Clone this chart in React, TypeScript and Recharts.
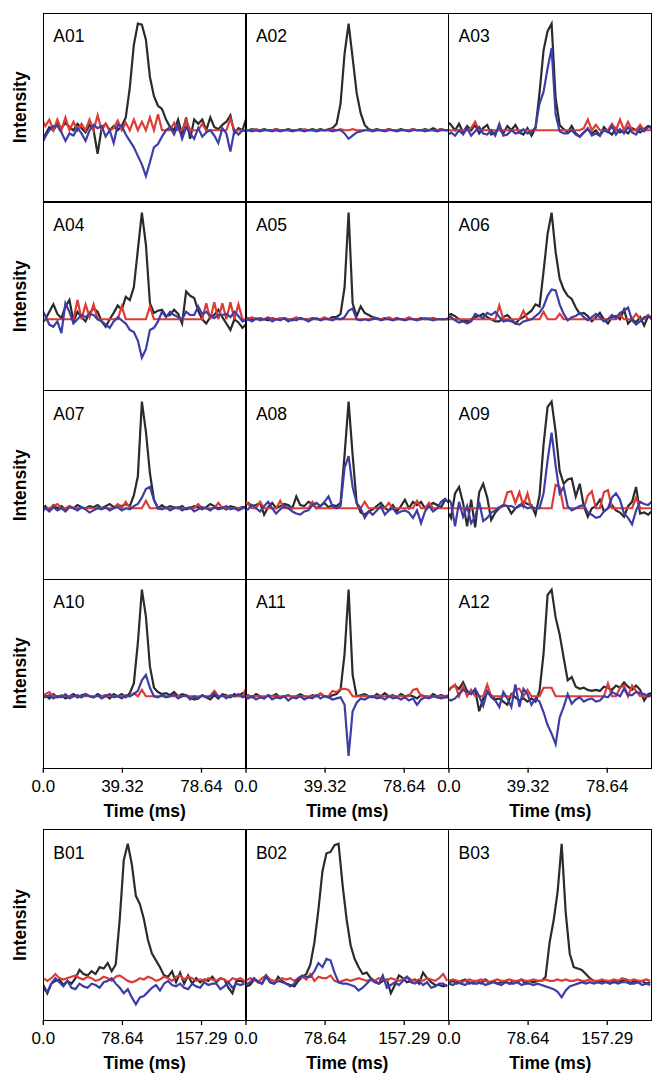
import React from 'react'
import { LineChart, Line, XAxis, YAxis } from 'recharts'

// time axes (ms)
const A_TIME = [
  0, 1, 3, 5, 7, 9, 11, 13, 15, 17, 19, 21, 23,
  25, 27, 29, 31, 33, 35, 37, 39, 41, 43, 45, 47, 49,
  51, 53, 55, 57, 59, 61, 63, 65, 67, 69, 71, 73, 75,
  77, 79, 81, 83, 85, 87, 89, 91, 93, 95, 97, 99, 100.7,
]
const B_TIME = [
  0, 4, 8, 12, 16, 20, 24, 28, 32, 36, 40, 44, 48,
  52, 56, 60, 64, 68, 72, 76, 80, 84, 88, 92, 96, 100,
  104, 108, 112, 116, 120, 124, 128, 132, 136, 140, 144, 148, 152,
  156, 160, 164, 168, 172, 176, 180, 184, 188, 192, 196, 200,
]

const A_TICKS = [0, 39.32, 78.64]
const A_TICK_LABELS = ['0.0', '39.32', '78.64']
const B_TICKS = [0, 78.64, 157.29]
const B_TICK_LABELS = ['0.0', '78.64', '157.29']

// ---- A01 ----
const A01_BLACK = [
  -0.06, -0.04, 0.03, 0.0, 0.06, 0.02, 0.07, 0.03, 0.0, 0.06, 0.02, -0.02, 0.05,
  0.0, -0.22, 0.02, 0.06, 0.0, 0.04, 0.0, 0.04, 0.12, 0.4, 0.8, 1.0, 0.99,
  0.85, 0.5, 0.32, 0.23, 0.2, 0.1, 0.03, 0.0, 0.1, -0.04, 0.12, -0.08, 0.1,
  0.06, 0.1, 0.0, 0.12, 0.03, 0.01, 0.05, 0.08, 0.14, -0.03, 0.02, 0.0, 0.1,
]
const A01_RED = [
  0.08, 0.04, 0.1, 0, 0.1, 0, 0.12, 0, 0.08, 0, 0.06, 0, 0.1,
  0, 0.14, 0, 0.06, 0, 0.02, 0.09, 0, 0.07, 0, 0.1, 0, 0.08,
  0, 0.12, 0, 0.15, 0, 0, 0, 0.07, 0, 0, 0.1, 0, 0,
  0, 0.06, 0, 0, 0, 0, 0, 0, 0.11, 0, 0, 0, 0,
]
const A01_BLUE = [
  -0.1, -0.06, 0.0, 0.04, 0.04, -0.02, -0.1, -0.03, -0.05, 0.02, -0.03, -0.1, 0.0,
  0.05, 0.02, 0.04, -0.06, 0.0, -0.12, 0.05, 0.04, -0.04, -0.1, -0.16, -0.24, -0.32,
  -0.43, -0.3, -0.16, -0.13, -0.06, 0.0, 0.03, -0.04, 0.05, -0.08, 0.03, -0.03, -0.08,
  0.02, -0.06, -0.02, 0.0, -0.05, -0.12, 0.02, -0.03, -0.2, 0.0, -0.04, 0.0, -0.01,
]

// ---- A02 ----
const A02_BLACK = [
  0.0, 0.0, 0.01, 0.0, 0.0, 0.01, 0.0, 0.0, 0.01, 0.0, 0.0, 0.01, 0.0,
  0.0, 0.01, 0.0, 0.0, 0.01, 0.0, 0.01, 0.0, 0.01, 0.02, 0.06, 0.25, 0.72,
  1.0, 0.68, 0.35, 0.16, 0.05, 0.01, 0.0, 0.01, 0.0, 0.0, 0.01, 0.0, 0.0,
  0.01, 0.0, 0.0, 0.01, 0.0, 0.0, 0.01, 0.0, 0.02, 0.0, 0.01, 0.0, 0.0,
]
const A02_RED = [
  0, 0, 0, 0.01, 0, 0, 0, 0, 0.01, 0, 0, 0, 0,
  0, 0, 0.01, 0, 0, 0, 0, 0, 0, 0.01, 0, 0.01, 0,
  0, 0.01, 0, 0, 0, 0, 0, 0, 0, 0, 0.01, 0, 0,
  0, 0, 0, 0.01, 0, 0, 0, 0, 0, 0, 0.01, 0, 0,
]
const A02_BLUE = [
  -0.01, 0.0, -0.01, 0.0, -0.01, 0.0, 0.0, -0.01, 0.0, -0.01, 0.0, 0.0, -0.01,
  0.0, 0.0, -0.01, 0.0, 0.0, -0.01, 0.0, 0.0, 0.0, -0.01, 0.0, 0.0, -0.03,
  -0.08, -0.05, -0.02, -0.01, 0.0, 0.0, -0.01, 0.0, 0.0, -0.01, 0.0, 0.0, -0.01,
  0.0, 0.0, -0.01, 0.0, 0.0, 0.0, -0.01, 0.0, 0.0, -0.01, 0.0, 0.0, 0.0,
]

// ---- A03 ----
const A03_BLACK = [
  0.07, 0.05, 0.0, 0.06, -0.02, 0.04, 0.0, 0.05, -0.03, 0.02, 0.05, -0.04, -0.02,
  0.01, -0.03, 0.04, 0.0, 0.05, -0.02, -0.04, 0.02, -0.05, 0.02, 0.35, 0.75, 0.93,
  1.0, 0.3, 0.05, 0.01, -0.02, 0.04, -0.03, -0.06, -0.02, 0.01, -0.03, 0.0, -0.05,
  0.03, -0.01, -0.04, 0.02, -0.02, 0.0, -0.03, 0.02, 0.0, -0.02, 0.01, 0.04, 0.03,
]
const A03_RED = [
  0, 0, 0, 0, 0, 0, 0.02, 0.08, 0, 0, 0, 0, 0,
  0, 0, 0, 0, 0, 0, 0, 0, 0, 0, 0, 0, 0,
  0, 0, 0, 0, 0, 0, 0, 0, 0.02, 0.1, 0, 0.05, 0,
  0, 0, 0.06, 0, 0.1, 0, 0.08, 0, 0, 0.05, 0, 0, 0,
]
const A03_BLUE = [
  -0.04, -0.02, -0.05, 0.0, -0.04, 0.02, -0.05, -0.01, 0.03, -0.03, -0.04, 0.0, -0.05,
  0.06, -0.05, -0.04, 0.0, -0.03, -0.02, 0.01, -0.03, -0.02, 0.03, 0.25, 0.36, 0.58,
  0.77, 0.15, -0.01, -0.03, -0.03, 0.0, -0.04, -0.06, -0.02, 0.02, -0.05, -0.03, -0.05,
  0.0, -0.02, 0.04, -0.04, 0.01, -0.03, 0.03, -0.02, -0.04, 0.02, -0.01, 0.03, 0.02,
]

// ---- A04 ----
const A04_BLACK = [
  -0.02, 0.0, 0.07, 0.14, 0.05, 0.01, 0.12, 0.18, -0.02, 0.07, 0.02, -0.02, 0.06,
  0.1, 0.07, -0.02, -0.07, 0.0, 0.06, 0.13, 0.09, 0.21, 0.18, 0.3, 0.65, 1.0,
  0.7, 0.15, 0.06, 0.08, 0.09, 0.03, 0.04, 0.09, 0.05, -0.04, 0.26, 0.22, 0.2,
  0.08, 0.0, -0.04, 0.02, 0.04, 0.09, 0.02, -0.04, -0.1, 0.0, -0.03, -0.08, -0.05,
]
const A04_RED = [
  0, 0, 0, 0, 0, 0, 0, 0, 0, 0.18, 0, 0.14, 0.02,
  0.14, 0, 0, 0, 0, 0, 0, 0.12, 0, 0, 0, 0, 0,
  0, 0.12, 0, 0, 0, 0, 0, 0, 0, 0, 0, 0, 0,
  0, 0, 0.15, 0, 0.16, 0, 0.15, 0, 0.16, 0, 0.14, 0, 0,
]
const A04_BLUE = [
  0.07, 0.03, -0.05, -0.07, -0.02, -0.13, 0.15, 0.07, -0.04, 0.0, 0.04, 0.02, 0.05,
  0.04, 0.0, -0.02, -0.05, -0.08, -0.02, 0.02, -0.01, -0.04, -0.1, -0.12, -0.2, -0.36,
  -0.28, -0.1, -0.08, -0.02, 0.07, 0.02, 0.07, 0.04, 0.02, 0.0, 0.07, 0.04, 0.04,
  0.12, 0.05, 0.07, 0.03, 0.01, 0.04, 0.04, 0.05, 0.02, 0.07, 0.03, -0.02, -0.01,
]

// ---- A05 ----
const A05_BLACK = [
  0.0, 0.01, 0.0, 0.0, 0.01, 0.0, -0.01, 0.01, 0.0, 0.0, 0.01, 0.0, -0.01,
  0.0, 0.01, 0.0, 0.0, 0.01, 0.0, 0.0, 0.01, 0.0, 0.02, 0.02, 0.05, 0.3,
  1.0, 0.15, 0.03, 0.12, 0.06, 0.04, 0.02, 0.01, 0.0, 0.01, 0.0, 0.0, 0.01,
  0.0, 0.0, 0.01, 0.0, 0.0, 0.01, 0.0, 0.0, 0.01, 0.0, 0.0, 0.0, 0.01,
]
const A05_RED = [
  0, 0, 0.02, 0, 0, 0, 0.02, 0, 0, 0.01, 0, 0, 0,
  0.02, 0, 0, 0, 0, 0, 0, 0.02, 0, 0, 0, 0, 0,
  0, 0, 0, 0, 0, 0, 0.01, 0, 0, 0, 0.02, 0, 0,
  0, 0, 0.02, 0, 0, 0, 0, 0.01, 0, 0, 0, 0, 0,
]
const A05_BLUE = [
  -0.01, 0.0, -0.02, 0.01, -0.01, 0.0, 0.01, -0.02, 0.0, -0.01, 0.01, -0.02, 0.0,
  -0.01, 0.01, 0.0, -0.02, 0.0, 0.01, -0.01, 0.0, 0.0, -0.01, 0.01, 0.0, 0.02,
  0.08, 0.1, 0.0, -0.01, 0.0, -0.01, 0.0, 0.01, -0.01, 0.0, 0.0, -0.01, 0.0,
  0.0, -0.01, 0.0, 0.0, -0.01, 0.0, 0.01, 0.0, -0.01, 0.0, 0.0, 0.0, 0.0,
]

// ---- A06 ----
const A06_BLACK = [
  0.04, 0.05, 0.03, 0.0, -0.01, -0.02, 0.0, 0.02, 0.03, 0.05, 0.02, 0.0, -0.02,
  -0.02, 0.02, 0.04, 0.0, -0.04, 0.0, 0.02, 0.05, 0.08, 0.14, 0.12, 0.45, 0.8,
  1.0, 0.63, 0.38, 0.28, 0.22, 0.19, 0.11, 0.05, 0.06, 0.03, -0.02, 0.02, 0.06,
  0.0, -0.04, 0.02, 0.03, 0.0, 0.09, -0.04, 0.0, -0.03, 0.02, -0.06, 0.03, 0.0,
]
const A06_RED = [
  0, 0, 0, 0, 0, 0, 0, 0, 0, 0, 0, 0, 0,
  0.13, 0, 0, 0, 0, 0, 0.08, 0, 0, 0, 0, 0.07, 0,
  0, 0, 0.05, 0, 0, 0, 0, 0, 0, 0, 0, 0, 0,
  0, 0, 0, 0, 0.04, 0, 0, 0, 0.05, 0, 0, 0.04, 0,
]
const A06_BLUE = [
  0.02, 0.02, -0.01, -0.03, -0.02, -0.04, -0.02, 0.05, 0.03, 0.01, 0.06, 0.04, 0.07,
  0.02, -0.02, -0.01, -0.02, -0.04, -0.05, -0.02, -0.01, 0.0, 0.03, 0.06, 0.12, 0.22,
  0.28, 0.27, 0.14, 0.05, -0.01, 0.02, 0.03, 0.06, 0.02, -0.01, 0.02, 0.05, 0.02,
  -0.02, 0.0, 0.04, 0.01, 0.06, 0.08, 0.11, -0.01, -0.05, -0.02, 0.02, 0.03, 0.02,
]

// ---- A07 ----
const A07_BLACK = [
  0.0, 0.02, -0.02, 0.03, 0.0, 0.02, -0.01, 0.02, 0.0, 0.03, 0.01, 0.0, 0.02,
  0.01, 0.03, 0.0, 0.02, 0.04, 0.01, 0.03, 0.02, 0.04, 0.02, 0.12, 0.3, 1.0,
  0.72, 0.33, 0.08, 0.0, 0.03, 0.0, 0.02, 0.01, 0.0, 0.02, -0.01, 0.0, 0.02,
  0.01, -0.01, 0.01, 0.04, 0.02, 0.0, 0.01, -0.01, 0.02, 0.01, 0.0, 0.01, 0.01,
]
const A07_RED = [
  0, 0, 0, 0.02, 0.04, 0, 0, 0.02, 0, 0, 0, 0, 0,
  0, 0, 0, 0, 0, 0, 0.04, 0, 0.06, 0, 0, 0, 0,
  0.07, 0, 0, 0, 0, 0, 0, 0, 0, 0, 0, 0, 0,
  0.04, 0, 0, 0, 0, 0.05, 0, 0, 0, 0, 0, 0, 0,
]
const A07_BLUE = [
  -0.02, 0.0, -0.03, 0.01, -0.02, 0.0, -0.03, 0.01, 0.0, -0.02, 0.01, -0.01, -0.04,
  -0.02, 0.0, -0.01, 0.01, -0.02, 0.0, 0.01, -0.02, 0.0, -0.01, 0.02, 0.04, 0.1,
  0.18, 0.2, 0.08, 0.0, -0.01, 0.01, -0.02, 0.0, 0.01, -0.02, 0.0, 0.01, -0.03,
  -0.01, 0.01, 0.0, -0.02, 0.01, -0.01, 0.0, 0.02, -0.01, 0.0, -0.02, 0.0, 0.01,
]

// ---- A08 ----
const A08_BLACK = [
  0.04, 0.05, 0.02, 0.03, 0.05, -0.06, 0.01, 0.05, 0.0, 0.02, 0.04, 0.03, 0.0,
  0.11, 0.03, 0.02, 0.06, 0.04, 0.0, 0.02, 0.05, 0.01, 0.03, 0.02, 0.05, 0.5,
  1.0, 0.5, 0.05, -0.04, -0.06, -0.03, -0.01, 0.02, 0.05, 0.0, -0.02, 0.03, -0.03,
  0.02, 0.08, 0.0, 0.06, 0.03, 0.06, 0.0, 0.02, 0.05, 0.03, 0.01, 0.08, 0.06,
]
const A08_RED = [
  0.06, 0.04, 0, 0, 0.06, 0, 0, 0, 0, 0.07, 0, 0, 0,
  0, 0, 0, 0, 0.06, 0, 0, 0, 0, 0, 0, 0, 0,
  0, 0, 0, 0, 0.06, 0, 0, 0, 0, 0, 0.05, 0, 0,
  0, 0, 0, 0, 0.07, 0, 0, 0.05, 0, 0, 0, 0, 0,
]
const A08_BLUE = [
  -0.02, -0.01, 0.03, 0.0, -0.03, 0.02, 0.06, 0.0, -0.05, -0.01, 0.02, 0.0, -0.03,
  -0.05, -0.06, -0.03, -0.02, 0.03, 0.05, 0.02, 0.06, 0.11, 0.02, 0.0, 0.02, 0.38,
  0.49, 0.2, 0.05, 0.0, -0.09, -0.03, -0.06, -0.02, 0.02, -0.06, -0.02, 0.0, -0.05,
  -0.03, -0.02, -0.04, -0.09, -0.02, -0.14, -0.03, 0.02, -0.03, 0.0, 0.06, 0.09, 0.05,
]

// ---- A09 ----
const A09_BLACK = [
  -0.05, -0.09, 0.14, 0.2, 0.05, -0.17, 0.08, -0.18, 0.15, 0.23, 0.1, -0.11, -0.04,
  0.0, 0.03, 0.02, -0.05, 0.0, 0.02, 0.06, 0.04, 0.03, -0.06, 0.12, 0.6, 0.95,
  1.0, 0.72, 0.35, 0.23, 0.27, 0.28, 0.11, 0.23, 0.02, -0.08, 0.0, 0.02, 0.08,
  -0.03, 0.0, 0.03, -0.02, -0.04, -0.08, 0.02, 0.06, 0.2, -0.05, -0.04, -0.06, -0.03,
]
const A09_RED = [
  0, 0, 0, 0, 0, 0, 0, 0, 0, 0, 0, 0, 0,
  0, 0.02, 0.15, 0.16, 0.05, 0.15, 0.02, 0.14, 0, 0, 0, 0, 0,
  0, 0.22, 0.2, 0, 0, 0, 0, 0, 0, 0.12, 0.16, 0, 0,
  0.15, 0.17, 0, 0, 0, 0, 0, 0, 0.1, 0, 0, 0, 0,
]
const A09_BLUE = [
  0.08, 0.05, -0.17, 0.06, -0.08, 0.02, -0.14, -0.08, 0.06, -0.12, -0.09, -0.04, -0.02,
  0.01, 0.03, 0.02, 0.02, 0.0, 0.03, 0.02, 0.0, 0.01, 0.0, 0.0, 0.14, 0.45,
  0.71, 0.4, 0.14, 0.2, 0.02, -0.02, 0.0, 0.02, 0.03, -0.04, -0.06, -0.09, -0.08,
  -0.03, 0.0, 0.1, 0.14, 0.08, -0.05, -0.09, -0.15, -0.02, 0.06, 0.04, 0.03, 0.06,
]

// ---- A10 ----
const A10_BLACK = [
  0.0, 0.01, -0.02, 0.02, -0.01, 0.01, -0.02, 0.0, 0.02, -0.01, 0.01, 0.02, 0.0,
  -0.01, 0.02, 0.0, 0.01, -0.02, 0.02, 0.0, 0.02, -0.01, 0.03, 0.12, 0.5, 1.0,
  0.75, 0.28, 0.08, 0.04, 0.02, 0.03, 0.01, 0.04, 0.0, 0.02, 0.01, -0.01, -0.03,
  -0.02, 0.01, -0.01, -0.03, 0.01, -0.02, 0.02, 0.01, -0.01, 0.02, 0.0, 0.03, 0.01,
]
const A10_RED = [
  0, 0.02, 0.04, 0, 0, 0, 0, 0, 0, 0, 0, 0, 0,
  0, 0, 0, 0, 0, 0, 0, 0, 0, 0, 0.03, 0, 0.06,
  0, 0, 0, 0, 0, 0, 0, 0, 0, 0, 0, 0, 0,
  0, 0, 0, 0, 0.05, 0, 0, 0, 0, 0, 0, 0, 0.07,
]
const A10_BLUE = [
  0.0, -0.01, 0.01, -0.02, 0.0, -0.01, 0.02, -0.02, 0.0, 0.01, -0.01, 0.02, 0.0,
  -0.01, 0.01, -0.02, 0.0, 0.02, -0.01, 0.0, -0.02, 0.01, 0.0, 0.02, 0.05, 0.15,
  0.2, 0.08, 0.0, -0.01, 0.01, -0.01, 0.0, 0.02, -0.02, 0.0, 0.01, -0.03, 0.0,
  -0.02, 0.01, -0.01, 0.0, 0.03, -0.01, 0.01, -0.02, 0.01, 0.0, 0.02, -0.01, 0.0,
]

// ---- A11 ----
const A11_BLACK = [
  0.0, 0.01, -0.01, 0.02, 0.0, -0.02, 0.01, 0.0, 0.02, -0.01, 0.0, 0.01, -0.01,
  0.0, 0.02, 0.0, -0.01, 0.01, 0.0, 0.02, 0.0, -0.01, 0.01, 0.02, 0.06, 0.4,
  1.0, 0.2, 0.0, 0.01, 0.02, 0.0, -0.01, 0.02, 0.0, 0.03, 0.0, 0.01, -0.01,
  0.02, 0.0, 0.01, 0.0, -0.02, 0.01, 0.0, -0.01, 0.02, 0.0, 0.01, 0.0, 0.01,
]
const A11_RED = [
  0, 0, 0, 0, 0, 0, 0, 0, 0, 0, 0, 0, 0,
  0, 0, 0, 0, 0, 0, 0.03, 0, 0, 0.05, 0.04, 0.07, 0.07,
  0.06, 0, 0, 0, 0, 0, 0, 0, 0, 0, 0, 0, 0,
  0, 0, 0, 0.06, 0.07, 0, 0, 0, 0, 0, 0, 0, 0,
]
const A11_BLUE = [
  -0.01, -0.02, 0.0, -0.03, -0.01, -0.02, 0.01, -0.03, -0.01, -0.02, 0.0, -0.04, -0.01,
  -0.02, 0.0, -0.03, -0.01, -0.02, 0.01, -0.02, 0.0, -0.01, -0.03, -0.02, -0.01, -0.08,
  -0.56, -0.14, -0.06, -0.02, -0.03, -0.01, 0.0, -0.02, -0.01, -0.03, 0.0, -0.02, -0.01,
  -0.03, -0.01, -0.04, -0.02, -0.08, -0.03, -0.01, -0.02, 0.0, -0.01, -0.02, -0.01, -0.01,
]

// ---- A12 ----
const A12_BLACK = [
  0.06, 0.08, 0.1, 0.07, 0.13, 0.05, 0.02, 0.06, -0.14, -0.02, 0.03, 0.01, -0.03,
  -0.02, -0.05, -0.08, 0.02, -0.01, -0.04, -0.02, -0.05, -0.02, -0.05, 0.05, 0.4, 0.95,
  1.0, 0.74, 0.58, 0.36, 0.15, 0.18, 0.09, 0.07, 0.08, 0.06, 0.05, 0.06, 0.05,
  0.09, 0.08, 0.06, 0.1, 0.08, 0.13, 0.09, 0.06, 0.1, 0.06, -0.04, 0.02, 0.03,
]
const A12_RED = [
  0.05, 0.08, 0.11, 0, 0.1, 0, 0.06, 0, 0, 0, 0.11, 0, 0,
  0, 0, 0, 0, 0.07, 0.07, 0, 0.06, 0, 0, 0, 0.08, 0.08,
  0.08, 0, 0, 0, 0, 0, 0, 0, 0, 0, 0, 0, 0,
  0, 0.12, 0, 0, 0.08, 0.1, 0, 0.1, 0.05, 0, 0, 0, 0,
]
const A12_BLUE = [
  -0.03, -0.04, -0.02, 0.02, 0.06, 0.04, 0.02, 0.07, 0.0, -0.09, 0.05, -0.01, -0.04,
  -0.1, 0.04, -0.02, -0.1, 0.11, -0.1, 0.07, 0.02, -0.08, -0.02, -0.05, -0.15, -0.27,
  -0.35, -0.45, -0.2, -0.1, 0.02, -0.07, -0.03, -0.01, -0.05, -0.03, -0.02, -0.05, -0.04,
  0.0, -0.01, 0.04, 0.02, 0.0, 0.07, 0.01, 0.01, 0.04, 0.03, 0.02, 0.0, 0.01,
]

// ---- B01 ----
const B01_BLACK = [
  -0.03, -0.09, -0.02, 0.0, 0.01, -0.03, 0.0, -0.02, 0.02, 0.08, 0.05, 0.04, 0.07,
  0.05, 0.1, 0.09, 0.13, 0.07, 0.12, 0.45, 0.88, 1.0, 0.85, 0.62, 0.56, 0.45,
  0.3, 0.2, 0.15, 0.1, 0.04, 0.03, 0.07, -0.01, 0.06, -0.02, 0.04, -0.02, 0.02,
  -0.01, 0.01, 0.0, 0.03, -0.01, 0.02, 0.01, -0.05, -0.09, 0.0, 0.0, -0.01,
]
const B01_RED = [
  0.02, 0.0, 0.02, 0.05, 0.02, 0.01, 0.02, 0.03, 0.04, 0.02, 0.01, 0.03, 0.02,
  0.0, 0.01, 0.03, 0.02, 0.0, 0.03, 0.04, 0.02, 0.0, -0.01, 0.0, 0.02, 0.01,
  0.03, 0.02, 0.0, 0.01, 0.03, 0.02, 0.0, 0.03, 0.04, 0.01, 0.03, 0.02, 0.0,
  0.01, 0.0, 0.02, 0.01, 0.0, 0.02, 0.01, -0.01, 0.02, 0.01, 0.02, 0.0,
]
const B01_BLUE = [
  -0.06, -0.08, -0.02, 0.02, -0.01, -0.04, 0.0, -0.05, -0.06, -0.02, -0.04, -0.05, -0.02,
  -0.03, -0.05, -0.01, 0.0, 0.02, -0.02, -0.05, -0.09, -0.06, -0.12, -0.17, -0.12, -0.11,
  -0.08, -0.05, -0.03, -0.07, -0.02, 0.0, -0.03, -0.04, -0.02, -0.05, -0.06, -0.02, -0.04,
  -0.05, -0.01, -0.03, -0.02, -0.02, -0.06, -0.04, -0.01, -0.05, -0.02, -0.03, -0.02,
]

// ---- B02 ----
const B02_BLACK = [
  -0.04, -0.03, 0.01, 0.0, -0.02, 0.03, -0.01, -0.02, 0.03, 0.0, -0.02, -0.03, -0.04,
  0.0, 0.03, 0.05, 0.12, 0.28, 0.52, 0.8, 0.93, 0.94, 0.99, 1.0, 0.7, 0.45,
  0.26, 0.16, 0.1, 0.05, 0.06, 0.02, 0.0, -0.02, 0.0, 0.01, -0.09, -0.03, 0.04,
  0.02, -0.01, 0.0, 0.01, -0.02, 0.06, 0.02, -0.01, -0.03, -0.03, -0.04, -0.03,
]
const B02_RED = [
  0.0, 0.02, 0.01, -0.01, 0.02, 0.04, 0.01, 0.0, 0.0, 0.02, 0.01, 0.02, 0.0,
  0.02, 0.03, 0.01, 0.05, 0.0, 0.03, 0.02, 0.02, 0.04, 0.0, -0.01, 0.0, 0.01,
  0.0, 0.01, 0.02, 0.01, 0.0, 0.01, 0.0, 0.02, 0.01, 0.0, 0.02, 0.01, 0.0,
  0.01, 0.03, 0.01, 0.0, 0.01, 0.0, 0.02, 0.01, 0.0, 0.02, 0.05, 0.0,
]
const B02_BLUE = [
  -0.03, -0.01, 0.02, -0.01, -0.02, 0.04, -0.01, -0.02, 0.0, -0.01, -0.02, -0.04, -0.02,
  0.02, 0.04, 0.03, 0.03, 0.07, 0.13, 0.1, 0.16, 0.15, 0.06, -0.01, -0.02, -0.02,
  -0.03, -0.04, -0.07, -0.05, -0.02, 0.01, -0.01, -0.02, 0.04, -0.05, -0.03, -0.01, -0.03,
  0.0, 0.03, -0.01, -0.02, 0.0, -0.03, -0.01, -0.05, -0.04, -0.02, -0.02, -0.04,
]

// ---- B03 ----
const B03_BLACK = [
  -0.01, 0.0, -0.02, 0.0, 0.01, -0.02, -0.01, 0.0, -0.02, 0.01, -0.01, 0.0, -0.02,
  -0.01, 0.0, -0.02, 0.0, -0.01, 0.01, -0.02, 0.0, -0.01, 0.0, 0.0, 0.03, 0.28,
  0.44, 0.65, 1.0, 0.5, 0.2, 0.1, 0.09, 0.08, 0.05, 0.02, 0.0, -0.01, 0.0,
  0.0, -0.02, 0.0, -0.01, 0.0, 0.01, -0.02, 0.0, -0.01, 0.0, -0.02, -0.01,
]
const B03_RED = [
  0.0, 0.01, 0.0, -0.01, 0.0, 0.01, 0.0, 0.0, 0.01, 0.0, -0.01, 0.0, 0.01,
  0.0, 0.0, 0.01, 0.0, 0.0, 0.01, 0.0, 0.0, 0.01, 0.0, 0.0, 0.01, 0.0,
  0.0, 0.01, 0.0, 0.01, 0.0, 0.0, 0.01, 0.0, 0.0, 0.01, 0.0, 0.0, 0.01,
  0.0, 0.0, 0.01, 0.0, 0.02, 0.01, 0.0, 0.01, 0.0, 0.0, 0.01, 0.0,
]
const B03_BLUE = [
  -0.02, -0.03, -0.01, -0.02, -0.03, -0.01, -0.02, -0.02, -0.01, -0.03, -0.02, -0.01, -0.02,
  -0.03, -0.01, -0.02, -0.02, -0.01, -0.03, -0.02, -0.02, -0.03, -0.02, -0.03, -0.04, -0.05,
  -0.06, -0.08, -0.12, -0.07, -0.04, -0.03, -0.02, -0.01, -0.02, -0.01, -0.02, -0.01, -0.02,
  -0.01, -0.02, -0.01, -0.02, -0.01, -0.01, -0.02, -0.02, -0.01, -0.03, -0.02, -0.03,
]

const A_PANELS = [
  { name: 'A01', black: A01_BLACK, red: A01_RED, blue: A01_BLUE },
  { name: 'A02', black: A02_BLACK, red: A02_RED, blue: A02_BLUE },
  { name: 'A03', black: A03_BLACK, red: A03_RED, blue: A03_BLUE },
  { name: 'A04', black: A04_BLACK, red: A04_RED, blue: A04_BLUE },
  { name: 'A05', black: A05_BLACK, red: A05_RED, blue: A05_BLUE },
  { name: 'A06', black: A06_BLACK, red: A06_RED, blue: A06_BLUE },
  { name: 'A07', black: A07_BLACK, red: A07_RED, blue: A07_BLUE },
  { name: 'A08', black: A08_BLACK, red: A08_RED, blue: A08_BLUE },
  { name: 'A09', black: A09_BLACK, red: A09_RED, blue: A09_BLUE },
  { name: 'A10', black: A10_BLACK, red: A10_RED, blue: A10_BLUE },
  { name: 'A11', black: A11_BLACK, red: A11_RED, blue: A11_BLUE },
  { name: 'A12', black: A12_BLACK, red: A12_RED, blue: A12_BLUE },
]
const B_PANELS = [
  { name: 'B01', black: B01_BLACK, red: B01_RED, blue: B01_BLUE },
  { name: 'B02', black: B02_BLACK, red: B02_RED, blue: B02_BLUE },
  { name: 'B03', black: B03_BLACK, red: B03_RED, blue: B03_BLUE },
]

// layout
const FONT = '"Liberation Sans", Arial, Helvetica, sans-serif'
const BLACK = '#2b2b2b'
const RED = '#df3b35'
const BLUE = '#3d3da8'
const LINE_W = 2.2
const COL_X = [43.3, 245.9, 448.5]
const PANEL_W = 202.6
const A_ROW_Y = [13.3, 202, 390.7, 579.4]
const A_ROW_H = 188.7
const B_ROW_Y = 830
const B_ROW_H = 190
const A_X_DOMAIN: [number, number] = [0, 100.7]
const B_X_DOMAIN: [number, number] = [0, 201.4]
const A_Y_DOMAIN: [number, number] = [-0.67, 1.1]
const B_Y_DOMAIN: [number, number] = [-0.285, 1.1]
const AXIS_H = 60
const PAD_L = 20
const PAD_R = 10

interface PanelProps {
  name: string
  time: number[]
  black: number[]
  red: number[]
  blue: number[]
  col: number
  top: number
  height: number
  xDomain: [number, number]
  yDomain: [number, number]
  ticks: number[]
  tickLabels: string[]
  showAxis: boolean
}

function Panel(p: PanelProps) {
  const data = p.time.map((t, i) => ({ t, black: p.black[i], red: p.red[i], blue: p.blue[i] }))
  const first = p.col === 0
  const padL = first ? COL_X[0] : PAD_L
  const left = first ? 0 : COL_X[p.col] - PAD_L
  const width = padL + PANEL_W + PAD_R
  const axisH = p.showAxis ? AXIS_H : 0
  const panelX = COL_X[p.col]

  return (
    <>
      <div style={{ position: 'absolute', left, top: p.top, width, height: p.height + axisH }}>
        <LineChart
          width={width}
          height={p.height + axisH}
          data={data}
          margin={{ top: 0, right: PAD_R, bottom: 0, left: first ? 0 : PAD_L }}
        >
          <XAxis
            dataKey="t"
            type="number"
            domain={p.xDomain}
            allowDataOverflow
            ticks={p.ticks}
            interval={0}
            hide={!p.showAxis}
            height={axisH}
            axisLine={false}
            tickLine={{ stroke: '#000', strokeWidth: 1.3 }}
            tickSize={5}
            tickMargin={7}
            tick={{ fontSize: 17, fill: '#000', fontFamily: FONT }}
            tickFormatter={(v: number) => p.tickLabels[p.ticks.indexOf(v)]}
            label={{
              value: 'Time (ms)', position: 'insideBottom', offset: 11,
              fontSize: 17.5, fontWeight: 700, fill: '#000', fontFamily: FONT,
            }}
          />
          <YAxis
            type="number"
            domain={p.yDomain}
            allowDataOverflow
            hide={!first}
            width={first ? COL_X[0] : 0}
            tick={false}
            axisLine={false}
            tickLine={false}
            label={{
              value: 'Intensity', angle: -90, position: 'center', dx: -1.5,
              fontSize: 17.5, fontWeight: 700, fill: '#000', fontFamily: FONT,
            }}
          />
          <Line dataKey="black" stroke={BLACK} strokeWidth={LINE_W} dot={false} isAnimationActive={false} />
          <Line dataKey="red" stroke={RED} strokeWidth={LINE_W} dot={false} isAnimationActive={false} />
          <Line dataKey="blue" stroke={BLUE} strokeWidth={LINE_W} dot={false} isAnimationActive={false} />
        </LineChart>
      </div>
      {/* panel frame */}
      <div
        style={{
          position: 'absolute', left: panelX - 0.65, top: p.top - 0.65,
          width: PANEL_W + 1.3, height: p.height + 1.3,
          border: '1.3px solid #000', boxSizing: 'border-box', pointerEvents: 'none',
        }}
      />
      <div
        style={{
          position: 'absolute', left: panelX + 10, top: p.top + 13,
          fontFamily: FONT, fontSize: 17.5, lineHeight: 'normal', color: '#000',
        }}
      >
        {p.name}
      </div>
    </>
  )
}

export default function App() {
  return (
    <div style={{ position: 'absolute', left: 0, top: 0, width: 664, height: 1086, background: '#fff' }}>
      {A_PANELS.map((s, i) => {
        const row = Math.floor(i / 3)
        return (
          <Panel
            key={s.name}
            name={s.name}
            time={A_TIME}
            black={s.black}
            red={s.red}
            blue={s.blue}
            col={i % 3}
            top={A_ROW_Y[row]}
            height={A_ROW_H}
            xDomain={A_X_DOMAIN}
            yDomain={A_Y_DOMAIN}
            ticks={A_TICKS}
            tickLabels={A_TICK_LABELS}
            showAxis={row === 3}
          />
        )
      })}
      {B_PANELS.map((s, i) => (
        <Panel
          key={s.name}
          name={s.name}
          time={B_TIME}
          black={s.black}
          red={s.red}
          blue={s.blue}
          col={i}
          top={B_ROW_Y}
          height={B_ROW_H}
          xDomain={B_X_DOMAIN}
          yDomain={B_Y_DOMAIN}
          ticks={B_TICKS}
          tickLabels={B_TICK_LABELS}
          showAxis
        />
      ))}
    </div>
  )
}
